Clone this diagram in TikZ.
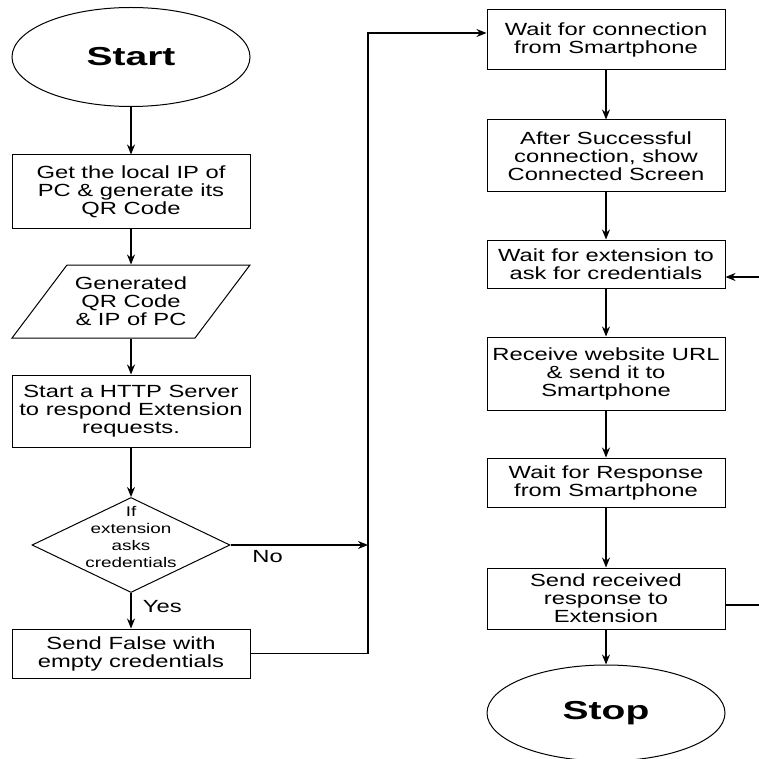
\documentclass[tikz,border=0pt]{standalone}
\usepackage{fontspec}
\setmainfont{Liberation Sans}[FakeStretch=1.35]
\newfontfamily\termfont{Liberation Sans}[FakeStretch=1.5]
\usetikzlibrary{shapes.geometric,arrows.meta}

\tikzset{
  process/.style={draw, rectangle, minimum width=238, align=center, inner sep=1pt,
    font=\fontsize{17.6}{18}\selectfont},
  terminal/.style={draw, ellipse, minimum width=238, inner sep=0pt,
    font=\termfont\fontsize{26}{26}\selectfont\bfseries},
  decision/.style={draw, diamond, minimum width=198, minimum height=95, inner sep=0pt},
  flow/.style={->, line width=1.2pt},
}

\begin{document}
\begin{tikzpicture}[x=1pt, y=-1pt, >={Stealth[length=10pt,width=8pt]}, line width=1pt]
  \fill[white] (0,0) rectangle (758,759);
  \useasboundingbox (0,0) rectangle (758,759);

  % left column
  \node[terminal, minimum height=99] (start) at (131,57) {Start};
  \node[process, minimum height=73] (getip) at (131,191.5) {Get the local IP of\\PC \& generate its\\QR Code};
  \node[minimum width=180, minimum height=73, inner sep=0pt, align=center,
    font=\fontsize{17.6}{18}\selectfont] (qrdata) at (131,301.5) {Generated\\QR Code\\\& IP of PC};
  \draw (12,338) -- (195,338) -- (250,265) -- (67,265) -- cycle;
  \node[process, minimum height=72] (server) at (131,411) {Start a HTTP Server\\to respond Extension\\requests.};
  \node[decision] (dec) at (131,545) {};
  \node[align=center, inner sep=0pt, font=\fontsize{14}{16.7}\selectfont] (dectext) at (131,537)
    {If\\extension\\asks\\credentials};
  \node[process, minimum height=49] (sendfalse) at (131,653.5) {Send False with\\empty credentials};

  % right column
  \node[process, minimum height=60] (waitconn) at (606,40) {Wait for connection\\from Smartphone};
  \node[process, minimum height=72] (connected) at (606,156) {After Successful\\connection, show\\Connected Screen};
  \node[process, minimum height=48] (waitext) at (606,264) {Wait for extension to\\ask for credentials};
  \node[process, minimum height=73] (receive) at (606,373.5) {Receive website URL\\\& send it to\\Smartphone};
  \node[process, minimum height=49] (waitresp) at (606,482.5) {Wait for Response\\from Smartphone};
  \node[process, minimum height=61] (sendresp) at (606,598.5) {Send received\\response to\\Extension};
  \node[terminal, minimum height=96] (stop) at (606,713) {Stop};

  \coordinate (busTop) at (368,33);

  \draw[flow] (start) -- (getip);
  \draw[flow] (getip) -- (qrdata);
  \draw[flow] (qrdata) -- (server);
  \draw[flow] (server) -- (dec);
  \draw[flow] (dec) -- (sendfalse)
    node[pos=0.38, right=8pt, font=\fontsize{17.6}{18}\selectfont] {Yes};
  \draw[flow] (dec.east) -- (dec.east -| busTop)
    node[pos=0.27, below=1pt, font=\fontsize{17.6}{18}\selectfont] {No};
  \draw[flow] (sendfalse.east) -| (busTop) -- (waitconn.west |- busTop);

  \draw[flow] (waitconn) -- (connected);
  \draw[flow] (connected) -- (waitext);
  \draw[flow] (waitext) -- (receive);
  \draw[flow] (receive) -- (waitresp);
  \draw[flow] (waitresp) -- (sendresp);
  \draw[flow] (sendresp) -- (stop);
  \draw[flow] ([yshift=-6.5]sendresp.east) -- ++(45,0) |- ([yshift=-13]waitext.east);
\end{tikzpicture}
\end{document}
